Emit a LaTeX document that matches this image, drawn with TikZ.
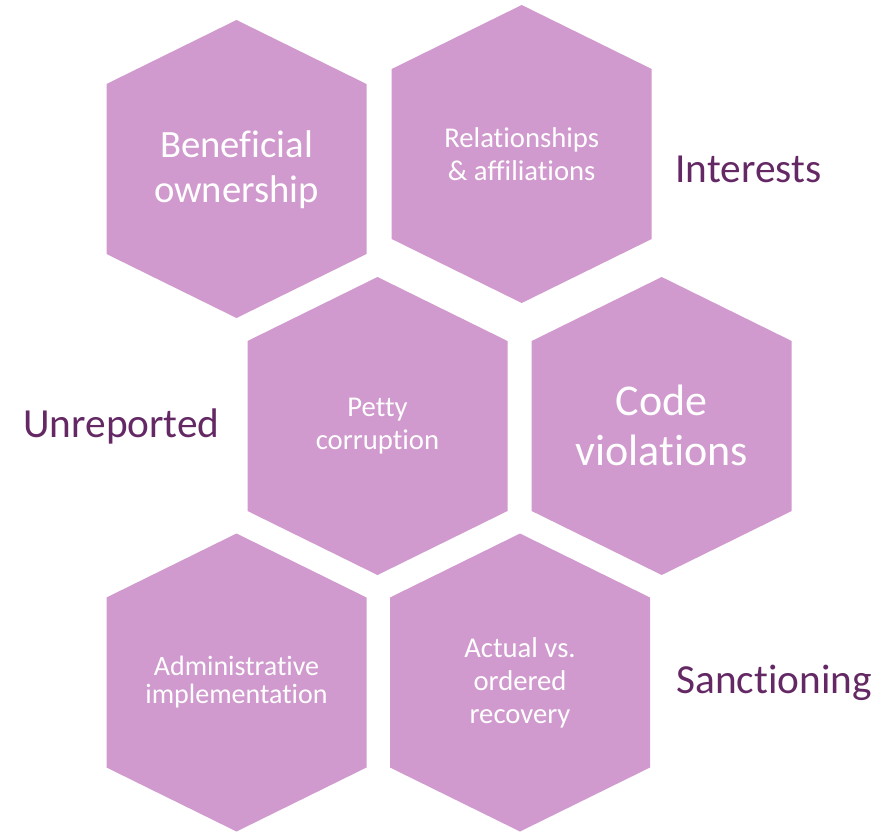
\documentclass[tikz,border=0pt]{standalone}
\usepackage{fontspec}
\setmainfont[Ligatures=NoCommon]{Carlito}
\definecolor{hexpink}{RGB}{208,154,206}
\definecolor{labelplum}{RGB}{100,40,100}

\begin{document}
\begin{tikzpicture}[x=0.75pt,y=-0.75pt,
        cell/.style={fill=hexpink,draw=none},
        celltext/.style={text=white,align=center,inner sep=0pt,
                font=\fontsize{21.5}{24.75}\selectfont},
        outer/.style={text=labelplum,inner sep=0pt,anchor=base,
                font=\fontsize{31}{36}\selectfont}]
        \useasboundingbox (0,0) rectangle (896,832);

        % hexagon cells
        \foreach \cx/\cy in {236.5/169, 521.7/154, 377.5/426, 661.7/426, 236.5/682.5, 520/682.5}
                \fill[cell] (\cx,\cy) ++(0,-149) -- ++(130,64) -- ++(0,170) -- ++(-130,64)
                        -- ++(-130,-64) -- ++(0,-170) -- cycle;

        % texts in the cells
        \node[celltext,font=\fontsize{29}{34}\selectfont] (benef) at (236.5,170) {Beneficial\\ownership};
        \node[celltext] (relat) at (521.7,154) {Relationships\\\& affiliations};
        \node[celltext] (petty) at (377.5,426) {Petty\\corruption};
        \node[celltext,font=\fontsize{33}{37.5}\selectfont] (code) at (661.7,425) {Code\\violations};
        \node[celltext,font=\fontsize{21}{21}\selectfont] (admin) at (236.5,682.5) {Administrative\\implementation};
        \node[celltext] (actual) at (520,682.5) {Actual vs.\\ordered\\recovery};

        % labels outside
        \node[outer] (interests) at (748.5,182) {Interests};
        \node[outer] (unrep) at (121.5,437) {Unreported};
        \node[outer] (sanct) at (774,693) {Sanctioning};
\end{tikzpicture}
\end{document}
